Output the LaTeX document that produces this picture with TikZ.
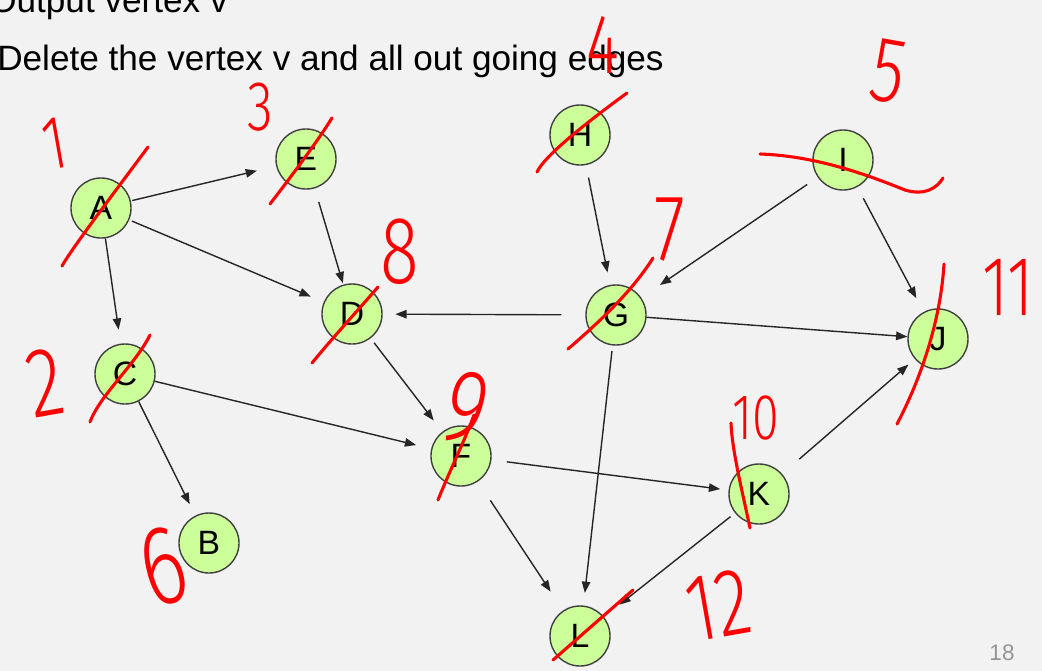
\documentclass[tikz,border=0pt]{standalone}
\usepackage{fontspec}
\setmainfont{Liberation Sans}
\newfontfamily\handfont{Fira Sans Light}
\usetikzlibrary{arrows.meta}
\definecolor{slidebg}{RGB}{242,242,242}
\definecolor{vertexfill}{RGB}{204,255,153}
\definecolor{vertexline}{RGB}{64,64,64}
\definecolor{inkred}{RGB}{255,0,0}
\definecolor{pagegray}{RGB}{150,150,150}
\newcommand{\handnum}[2]{{\handfont\fontsize{#1}{#1}\selectfont\scalebox{0.75}[1]{#2}}}

\begin{document}
\begin{tikzpicture}[x=0.025cm,y=-0.025cm,
  vertex/.style={circle,draw=vertexline,line width=1pt,fill=vertexfill,
    minimum size=1.5cm,inner sep=0pt,font=\fontsize{24}{24}\selectfont},
  edge/.style={draw=black!85,line width=1pt,-{Triangle[length=8pt,width=6pt]}},
  ink/.style={draw=inkred,line width=2.2pt,line cap=round,line join=round},
  inknum/.style={text=inkred,inner sep=0pt}]
\useasboundingbox (0,0) rectangle (1042,671);
\fill[slidebg] (0,0) rectangle (1042,671);
\node[anchor=base west,inner sep=0pt,font=\fontsize{25}{25}\selectfont] (heading) at (-11,12) {Output vertex v};
\node[anchor=base west,inner sep=0pt,font=\fontsize{25}{25}\selectfont] (title) at (-3,70) {Delete the vertex v and all out going edges};
\node[vertex] (A) at (101,208) {A};
\node[vertex] (E) at (306,159) {E};
\node[vertex] (H) at (580,135) {H};
\node[vertex] (I) at (843,160) {I};
\node[vertex] (D) at (352,314) {D};
\node[vertex] (G) at (616,315) {G};
\node[vertex] (J) at (938,339) {J};
\node[vertex] (C) at (125,374) {C};
\node[vertex] (F) at (461,456) {F};
\node[vertex] (K) at (759,494) {K};
\node[vertex] (B) at (209,543) {B};
\node[vertex] (L) at (580,636) {L};
\draw[edge,shorten <=1pt,shorten >=14pt] (A) -- (E);
\draw[edge,shorten <=2pt,shorten >=10pt] (A) -- (D);
\draw[edge,shorten >=10pt] (A) -- (C);
\draw[edge,shorten <=10pt,shorten >=1pt] (E) -- (D);
\draw[edge,shorten >=11pt] (C) -- (F);
\draw[edge,shorten >=9pt] (C) -- (B);
\draw[edge,shorten <=4pt,shorten >=10pt] (D) -- (F);
\draw[edge,shorten <=9pt,shorten >=9pt] (H) -- (G);
\draw[edge,shorten <=9pt,shorten >=16pt] (I) -- (G);
\draw[edge,shorten <=9pt,shorten >=11pt] (I) -- (J);
\draw[edge,shorten <=17pt,shorten >=9pt] (G) -- (D);
\draw[edge] (G) -- (J);
\draw[edge,shorten <=4pt,shorten >=9pt] (G) -- (L);
\draw[edge,shorten <=11pt,shorten >=6pt] (F) -- (K);
\draw[edge,shorten <=16pt,shorten >=16pt] (F) -- (L);
\draw[edge,shorten <=16pt,shorten >=6pt] (K) -- (J);
\draw[edge,shorten <=4pt,shorten >=14pt] (K) -- (L);
\draw[ink] (62,266) .. controls (72,248) and (120,185) .. (148,147);
\draw[ink] (270,204) .. controls (290,178) and (315,145) .. (332,118);
\draw[ink] (312,363) .. controls (335,335) and (360,308) .. (378,287);
\draw[ink] (90,422) .. controls (100,395) and (135,365) .. (150,335);
\draw[ink] (537,172) .. controls (545,155) and (590,120) .. (627,93);
\draw[ink] (760,154) .. controls (820,156) and (875,178) .. (905,190) .. controls (925,196) and (937,188) .. (943,178);
\draw[ink] (568,349) .. controls (590,330) and (630,295) .. (653,258);
\draw[ink] (897,424) .. controls (915,390) and (940,330) .. (944,264);
\draw[ink] (438,500) .. controls (450,470) and (465,440) .. (474,415);
\draw[ink] (750,528) .. controls (742,490) and (732,450) .. (731,423);
\draw[ink] (553,660) -- (633,590);
\node[inknum,rotate=10] (n1) at (55,144) {\handnum{54}{1}};
\node[inknum] (n3) at (260,107) {\handnum{50}{3}};
\node[inknum] (n4) at (603,45) {\handnum{60}{4}};
\node[inknum,rotate=-10] (n5) at (888,72) {\handnum{66}{5}};
\node[inknum,rotate=10] (n2) at (45,383) {\handnum{70}{2}};
\node[inknum] (n7) at (670,230) {\handnum{67}{7}};
\node[inknum] (n8) at (400,252) {\handnum{68}{8}};
\node[inknum,rotate=-15] (n9) at (466,408) {\handnum{75}{9}};
\node[inknum,rotate=15] (n6) at (163,567) {\handnum{80}{6}};
\node[inknum] (n10) at (756,418) {\handnum{46}{10}};
\node[inknum] (n11) at (1008,287) {\handnum{60}{11}};
\node[inknum,rotate=10] (n12) at (718,605) {\handnum{68}{12}};
\node[text=pagegray,inner sep=0pt,font=\fontsize{16}{16}\selectfont] (page) at (1002,653) {18};
\end{tikzpicture}
\end{document}
